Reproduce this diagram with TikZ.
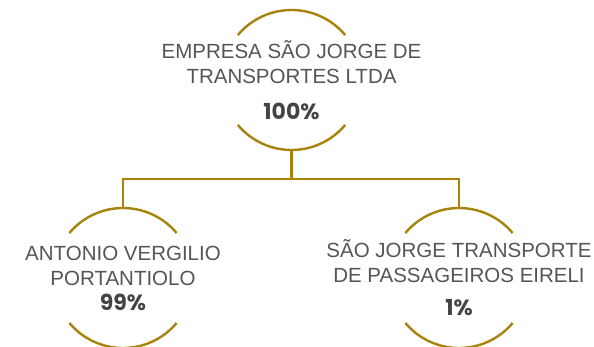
\documentclass[tikz,border=0pt]{standalone}
\usepackage{fontspec}
\setmainfont{Liberation Sans}
\newfontfamily\pctfont{Poppins}
\usetikzlibrary{positioning}
\definecolor{gold}{HTML}{A8820A}
\definecolor{ink}{HTML}{555555}
\definecolor{pctink}{HTML}{444444}
\newcommand{\pctmark}[1]{{\pctfont\bfseries\fontsize{22}{25}\selectfont\color{pctink}#1}}
\begin{document}
\begin{tikzpicture}[x=1pt, y=1pt, thick,
    holder/.style = {circle, minimum size=140pt, inner sep=0pt, outer sep=0pt},
    ring/.style = {draw=gold, line width=2.4pt},
    link/.style = {draw=gold, line width=2.8pt},
    nametext/.style = {align=center, text=ink, inner sep=0pt, font=\fontsize{20.5}{25}\selectfont}]

      \useasboundingbox (0,0) rectangle (594,346);

      \node[holder] (CO_0) at (291.5,266) {};
      \node[holder] (CO_1) at (123,68) {};
      \node[holder] (CO_2) at (459,68) {};

      \foreach \n in {0, 1, 2} {
        \draw[ring] (CO_\n.140) arc[start angle=140, end angle=40, radius=70pt];
        \draw[ring] (CO_\n.220) arc[start angle=220, end angle=320, radius=70pt];
      }

      \coordinate (BUS) at (291.5,167);
      \draw[link] (CO_0.south) -- (BUS);
      \draw[link] (CO_1.north) |- (BUS) -| (CO_2.north);

      \node[nametext] (TX_0) at (CO_0) {EMPRESA SÃO JORGE DE\\TRANSPORTES LTDA\\[11pt]\pctmark{100\%}};
      \node[nametext] (TX_1) at (CO_1) {ANTONIO VERGILIO\\PORTANTIOLO\\\pctmark{99\%}};
      \node[nametext] (TX_2) at (CO_2) {SÃO JORGE TRANSPORTE\\DE PASSAGEIROS EIRELI\\[8pt]\pctmark{1\%}};

\end{tikzpicture}
\end{document}
